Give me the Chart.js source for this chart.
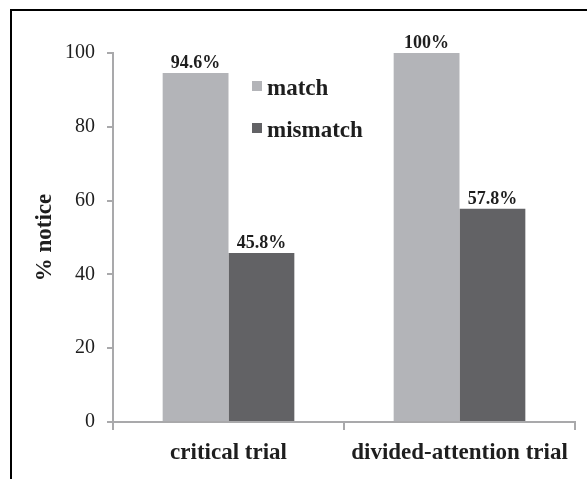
<!DOCTYPE html>
<html>
<head>
<meta charset="utf-8">
<script src="https://cdn.jsdelivr.net/npm/chart.js@4.4.0/dist/chart.umd.min.js"></script>
<style>
html, body { margin: 0; padding: 0; background: #fff; }
#contenedor { width: 587px; height: 479px; }
</style>
</head>
<body>
<div id="contenedor"><canvas id="grafico"></canvas></div>
<script>
// Datos del gráfico
const categorias = ['critical trial', 'divided-attention trial'];
const nombresSeries = ['match', 'mismatch'];
const valoresMatch = [94.6, 100];
const valoresMismatch = [45.8, 57.8];
const etiquetasMatch = ['94.6%', '100%'];
const etiquetasMismatch = ['45.8%', '57.8%'];

const colorMatch = '#b3b4b8';
const colorMismatch = '#626265';
const colorEje = '#a9a9ab';
const colorTexto = '#1e1e1e';
const fuente = "'Liberation Serif', 'Times New Roman', serif";

// Marco negro alrededor del gráfico
const marco = {
    id: 'marco',
    afterDraw(chart) {
        const c = chart.ctx;
        c.save();
        c.strokeStyle = '#000';
        c.lineWidth = 2;
        c.strokeRect(11, 10, 700, 600);
        c.restore();
    }
};

// Etiquetas de valor encima de cada barra
const etiquetasValor = {
    id: 'etiquetasValor',
    afterDatasetsDraw(chart) {
        const c = chart.ctx;
        c.save();
        c.font = 'bold 18px ' + fuente;
        c.fillStyle = colorTexto;
        c.textAlign = 'center';
        c.textBaseline = 'alphabetic';
        chart.data.datasets.forEach((ds, i) => {
            chart.getDatasetMeta(i).data.forEach((bar, j) => {
                c.fillText(ds.etiquetas[j], bar.x, bar.y - 5);
            });
        });
        c.restore();
    }
};

// Leyenda dentro del área del gráfico
const leyenda = {
    id: 'leyenda',
    afterDraw(chart) {
        const c = chart.ctx;
        c.save();
        c.font = 'bold 23px ' + fuente;
        c.textBaseline = 'alphabetic';
        c.textAlign = 'left';
        chart.data.datasets.forEach((ds, i) => {
            const y = 95 + i * 42;
            c.fillStyle = ds.backgroundColor;
            c.fillRect(252, y - 14, 10, 10);
            c.fillStyle = colorTexto;
            c.fillText(ds.label, 267, y);
        });
        c.restore();
    }
};

new Chart(document.getElementById('grafico'), {
    type: 'bar',
    data: {
        labels: categorias,
        datasets: [{
            label: nombresSeries[0],
            data: valoresMatch,
            etiquetas: etiquetasMatch,
            backgroundColor: colorMatch
        }, {
            label: nombresSeries[1],
            data: valoresMismatch,
            etiquetas: etiquetasMismatch,
            backgroundColor: colorMismatch
        }]
    },
    options: {
        responsive: true,
        maintainAspectRatio: false,
        animation: false,
        layout: { padding: { left: 0, right: 12, top: 53, bottom: 0 } },
        datasets: { bar: { categoryPercentage: 0.57, barPercentage: 1.0 } },
        plugins: {
            legend: { display: false },
            tooltip: { enabled: false }
        },
        scales: {
            x: {
                offset: true,
                grid: {
                    offset: true,
                    drawOnChartArea: false,
                    tickLength: 8,
                    color: colorEje,
                    lineWidth: 2
                },
                border: { color: colorEje, width: 2 },
                ticks: {
                    color: colorTexto,
                    padding: 9,
                    font: { family: fuente, size: 23, weight: 'bold' }
                },
                afterFit: (escala) => { escala.height = 57; }
            },
            y: {
                min: 0,
                max: 100,
                ticks: {
                    stepSize: 20,
                    color: colorTexto,
                    padding: 12,
                    font: { family: fuente, size: 20 }
                },
                grid: {
                    drawOnChartArea: false,
                    tickLength: 6,
                    color: colorEje,
                    lineWidth: 2
                },
                border: { color: colorEje, width: 2 },
                title: {
                    display: true,
                    text: '% notice',
                    color: colorTexto,
                    padding: { top: 31, bottom: 0 },
                    font: { family: fuente, size: 23, weight: 'bold' }
                },
                afterFit: (escala) => { escala.width = 113; }
            }
        }
    },
    plugins: [marco, etiquetasValor, leyenda]
});
</script>
</body>
</html>
